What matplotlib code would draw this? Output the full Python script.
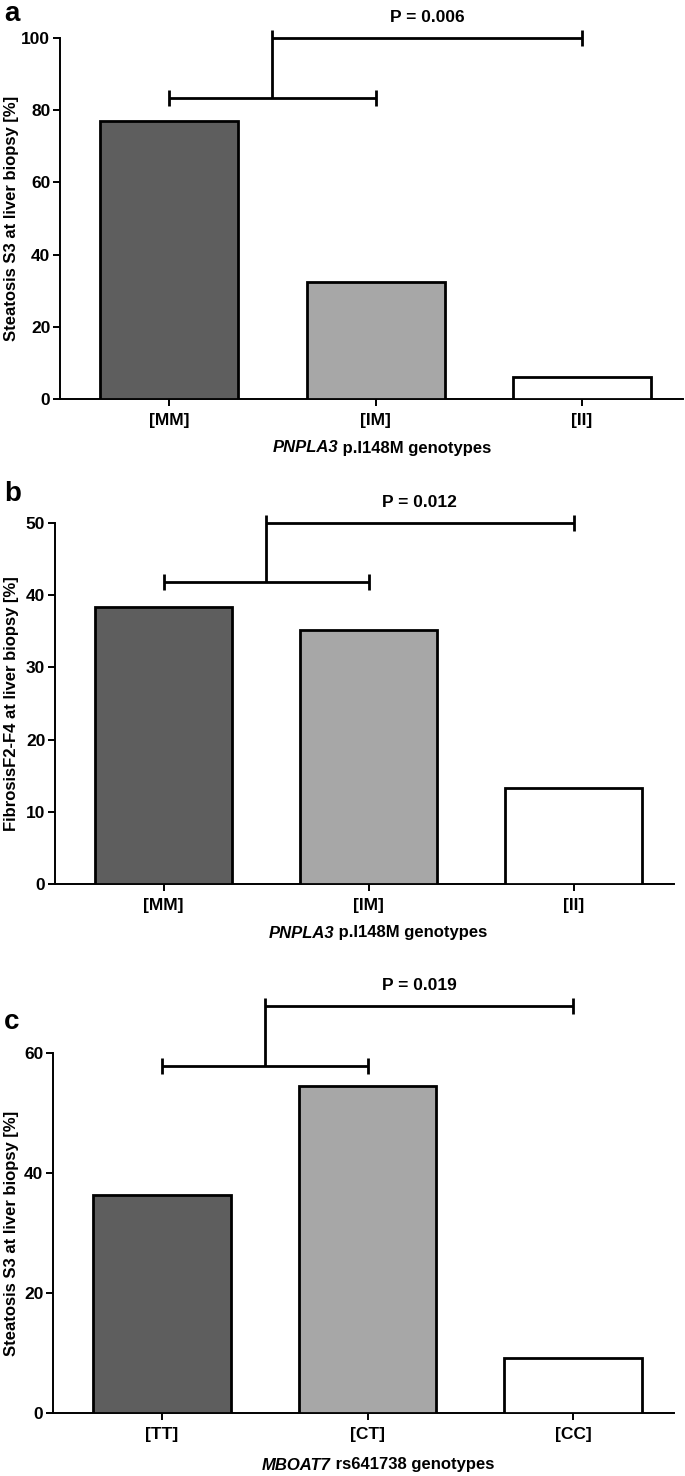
import matplotlib
matplotlib.use("Agg")
import matplotlib.pyplot as plt
from matplotlib import font_manager as fm

# ---------------- data ----------------
pnpla3_genotypes = ["[MM]", "[IM]", "[II]"]
mboat7_genotypes = ["[TT]", "[CT]", "[CC]"]
steatosis_pnpla3 = [76.9, 32.5, 6.2]
fibrosis_pnpla3 = [38.4, 35.2, 13.3]
steatosis_mboat7 = [36.3, 54.5, 9.1]
p_values = ["P = 0.006", "P = 0.012", "P = 0.019"]
panel_letters = ["a", "b", "c"]
ylabels = ["Steatosis S3 at liver biopsy [%]",
           "FibrosisF2-F4 at liver biopsy [%]",
           "Steatosis S3 at liver biopsy [%]"]
xlabel_genes = ["PNPLA3", "PNPLA3", "MBOAT7"]
xlabel_rest = [" p.I148M genotypes", " p.I148M genotypes", " rs641738 genotypes"]
ylims = [100, 50, 60]
yticks = [[0, 20, 40, 60, 80, 100], [0, 10, 20, 30, 40, 50], [0, 20, 40, 60]]
# bracket heights (data units): lower bracket, upper bracket, p text
lower_br = [83.5, 41.8, 57.9]
upper_br = [100, 50, 67.8]
p_text_y = [105.6, 52.8, 71.2]
bar_colors = ["#5e5e5e", "#a7a7a7", "#ffffff"]

names = {f.name for f in fm.fontManager.ttflist}
narrow = "Liberation Sans Narrow" if "Liberation Sans Narrow" in names else "Liberation Sans"
regular = "Liberation Sans"

W, H = 685, 1476
fig = plt.figure(figsize=(W / 100, H / 100), dpi=100)

# axes boxes in pixels: left, right, top, bottom
boxes = [(60, 683, 38, 399), (55, 674, 523, 884), (53, 674, 1053, 1413)]
letter_y = [14, 494, 1022]
xlabel_y = [448, 933, 1465]
datasets = [steatosis_pnpla3, fibrosis_pnpla3, steatosis_mboat7]
cats = [pnpla3_genotypes, pnpla3_genotypes, mboat7_genotypes]

fig.canvas.draw()
renderer = fig.canvas.get_renderer()

for i in range(3):
    l, r, t, b = boxes[i]
    ax = fig.add_axes([l / W, 1 - b / H, (r - l) / W, (b - t) / H])
    x = list(range(3))
    ax.bar(x, datasets[i], width=0.67, color=bar_colors, edgecolor="black",
           linewidth=2.0, zorder=3)
    ax.set_xlim(-0.53, 2.49)
    ax.set_ylim(0, ylims[i])
    ax.set_yticks(yticks[i])
    ax.set_xticks(x)
    ax.set_xticklabels(cats[i])
    for s in ["top", "right"]:
        ax.spines[s].set_visible(False)
    for s in ["left", "bottom"]:
        ax.spines[s].set_linewidth(1.4)
    ax.tick_params(axis="both", direction="out", length=5, width=1.4)
    for lab in ax.get_yticklabels() + ax.get_xticklabels():
        lab.set_fontfamily(narrow)
        lab.set_fontweight("bold")
        lab.set_fontsize(12.5)
    ax.tick_params(axis="x", pad=5)
    ax.tick_params(axis="y", pad=2)

    # y label
    fig.text(12 / W, 1 - ((t + b) / 2) / H, ylabels[i], rotation=90,
             ha="center", va="center", fontfamily=regular, fontweight="bold",
             fontsize=12)

    # brackets
    ymax = ylims[i]
    cap = ymax * 0.022
    lw = 2.0
    lb, ub = lower_br[i], upper_br[i]
    kw = dict(color="black", lw=lw, clip_on=False, zorder=4, solid_capstyle="butt")
    ax.plot([0, 1], [lb, lb], **kw)
    ax.plot([0, 0], [lb - cap, lb + cap], **kw)
    ax.plot([1, 1], [lb - cap, lb + cap], **kw)
    ax.plot([0.5, 0.5], [lb, ub + cap], **kw)
    ax.plot([0.5, 2], [ub, ub], **kw)
    ax.plot([2, 2], [ub - cap, ub + cap], **kw)
    ax.text(1.25, p_text_y[i], p_values[i], ha="center", va="center",
            fontfamily=narrow, fontweight="bold", fontsize=12.5, clip_on=False)

    # x label (bold italic gene + bold rest), centred at ~382 px
    cx = 382 if i == 0 else 378
    xl_y = 1 - xlabel_y[i] / H
    t1 = fig.text(0, xl_y, xlabel_genes[i], ha="left", va="center",
                  fontfamily=regular, fontstyle="italic", fontweight="bold",
                  fontsize=12)
    t2 = fig.text(0, xl_y, xlabel_rest[i], ha="left", va="center",
                  fontfamily=regular, fontweight="bold", fontsize=12)
    w1 = t1.get_window_extent(renderer).width
    w2 = t2.get_window_extent(renderer).width
    start = cx - (w1 + w2) / 2
    t1.set_x(start / W)
    t2.set_x((start + w1) / W)

    # panel letter
    fig.text(4 / W, 1 - letter_y[i] / H, panel_letters[i], ha="left", va="center",
             fontfamily=regular, fontweight="bold", fontsize=20)

fig.savefig("out.png", dpi=100)
